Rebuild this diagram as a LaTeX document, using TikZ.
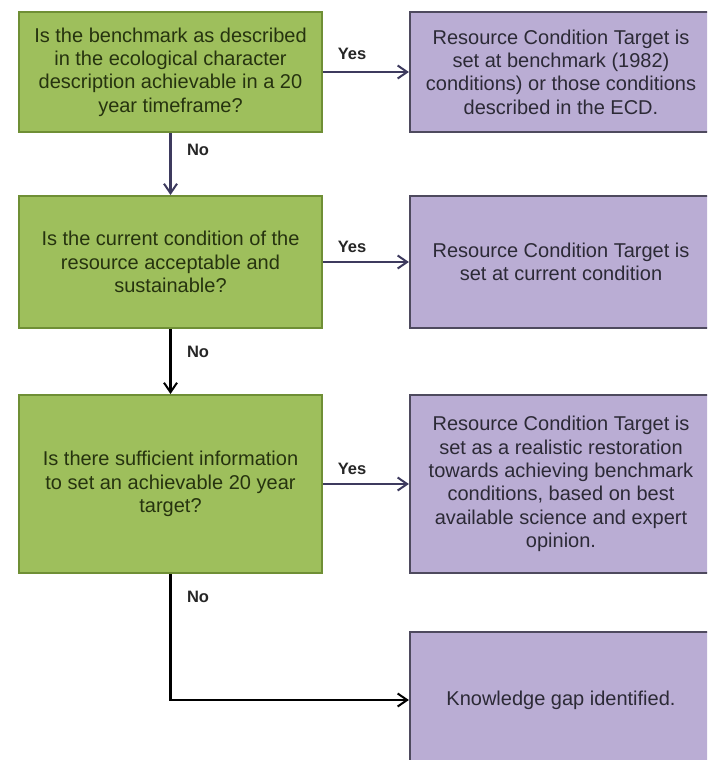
\documentclass[tikz,border=0pt]{standalone}
\usepackage{fontspec}
\setmainfont{Liberation Sans}
\usetikzlibrary{arrows.meta}

\definecolor{qfill}{HTML}{9EBF5C}
\definecolor{qdraw}{HTML}{6F8F35}
\definecolor{qtext}{HTML}{26330F}
\definecolor{rfill}{HTML}{BAADD4}
\definecolor{rdraw}{HTML}{4E4A5E}
\definecolor{rtext}{HTML}{2C2A36}
\definecolor{linkgray}{HTML}{3D3A5E}

\tikzset{
  question/.style={draw=qdraw, fill=qfill, line width=2pt, text=qtext,
    minimum width=303pt, align=center, inner sep=0pt,
    font=\fontsize{20}{23.3}\selectfont},
  result/.style={draw=rdraw, fill=rfill, line width=2.2pt, text=rtext,
    minimum width=302pt, align=center, inner sep=0pt,
    font=\fontsize{20}{23.3}\selectfont},
  answer/.style={font=\fontsize{16.5}{19}\selectfont\bfseries, text=black!85, inner sep=0pt},
  link/.style={line width=2.2pt, draw=linkgray,
    -{Straight Barb[length=9.5pt, width=13pt, line width=2pt]}},
  linkdark/.style={link, draw=black}
}

\begin{document}
\begin{tikzpicture}[x=1pt, y=-1pt]
  \clip (0,0) rectangle (707,760);
  \fill[white] (0,0) rectangle (707,760);

  % decision boxes
  \node[question, minimum height=120pt] (q1) at (170.5,72)
    {Is the benchmark as described\\in the ecological character\\description achievable in a 20\\year timeframe?};
  \node[question, minimum height=132pt] (q2) at (170.5,262)
    {Is the current condition of the\\resource acceptable and\\sustainable?};
  \node[question, minimum height=178pt] (q3) at (170.5,484)
    {Is there sufficient information\\to set an achievable 20 year\\target?};

  % outcome boxes
  \node[result, minimum height=120pt] (r1) at (561,72)
    {Resource Condition Target is\\set at benchmark (1982)\\conditions) or those conditions\\described in the ECD.};
  \node[result, minimum height=132pt] (r2) at (561,262)
    {Resource Condition Target is\\set at current condition};
  \node[result, minimum height=178pt] (r3) at (561,484)
    {Resource Condition Target is\\set as a realistic restoration\\towards achieving benchmark\\conditions, based on best\\available science and expert\\opinion.};
  \node[result, minimum height=136pt] (r4) at (561,700)
    {Knowledge gap identified.};

  % connectors
  \draw[link] (q1.east) -- (r1.west);
  \draw[link] (q1.south) -- (q2.north);
  \draw[link] (q2.east) -- (r2.west);
  \draw[linkdark] (q2.south) -- (q3.north);
  \draw[link] (q3.east) -- (r3.west);
  \draw[linkdark] (q3.south) |- (r4.west);

  % connector labels
  \node[answer] (y1) at (352,54) {Yes};
  \node[answer] (n1) at (198,150) {No};
  \node[answer] (y2) at (352,247) {Yes};
  \node[answer] (n2) at (198,352) {No};
  \node[answer] (y3) at (352,469) {Yes};
  \node[answer] (n3) at (198,597) {No};
\end{tikzpicture}
\end{document}
